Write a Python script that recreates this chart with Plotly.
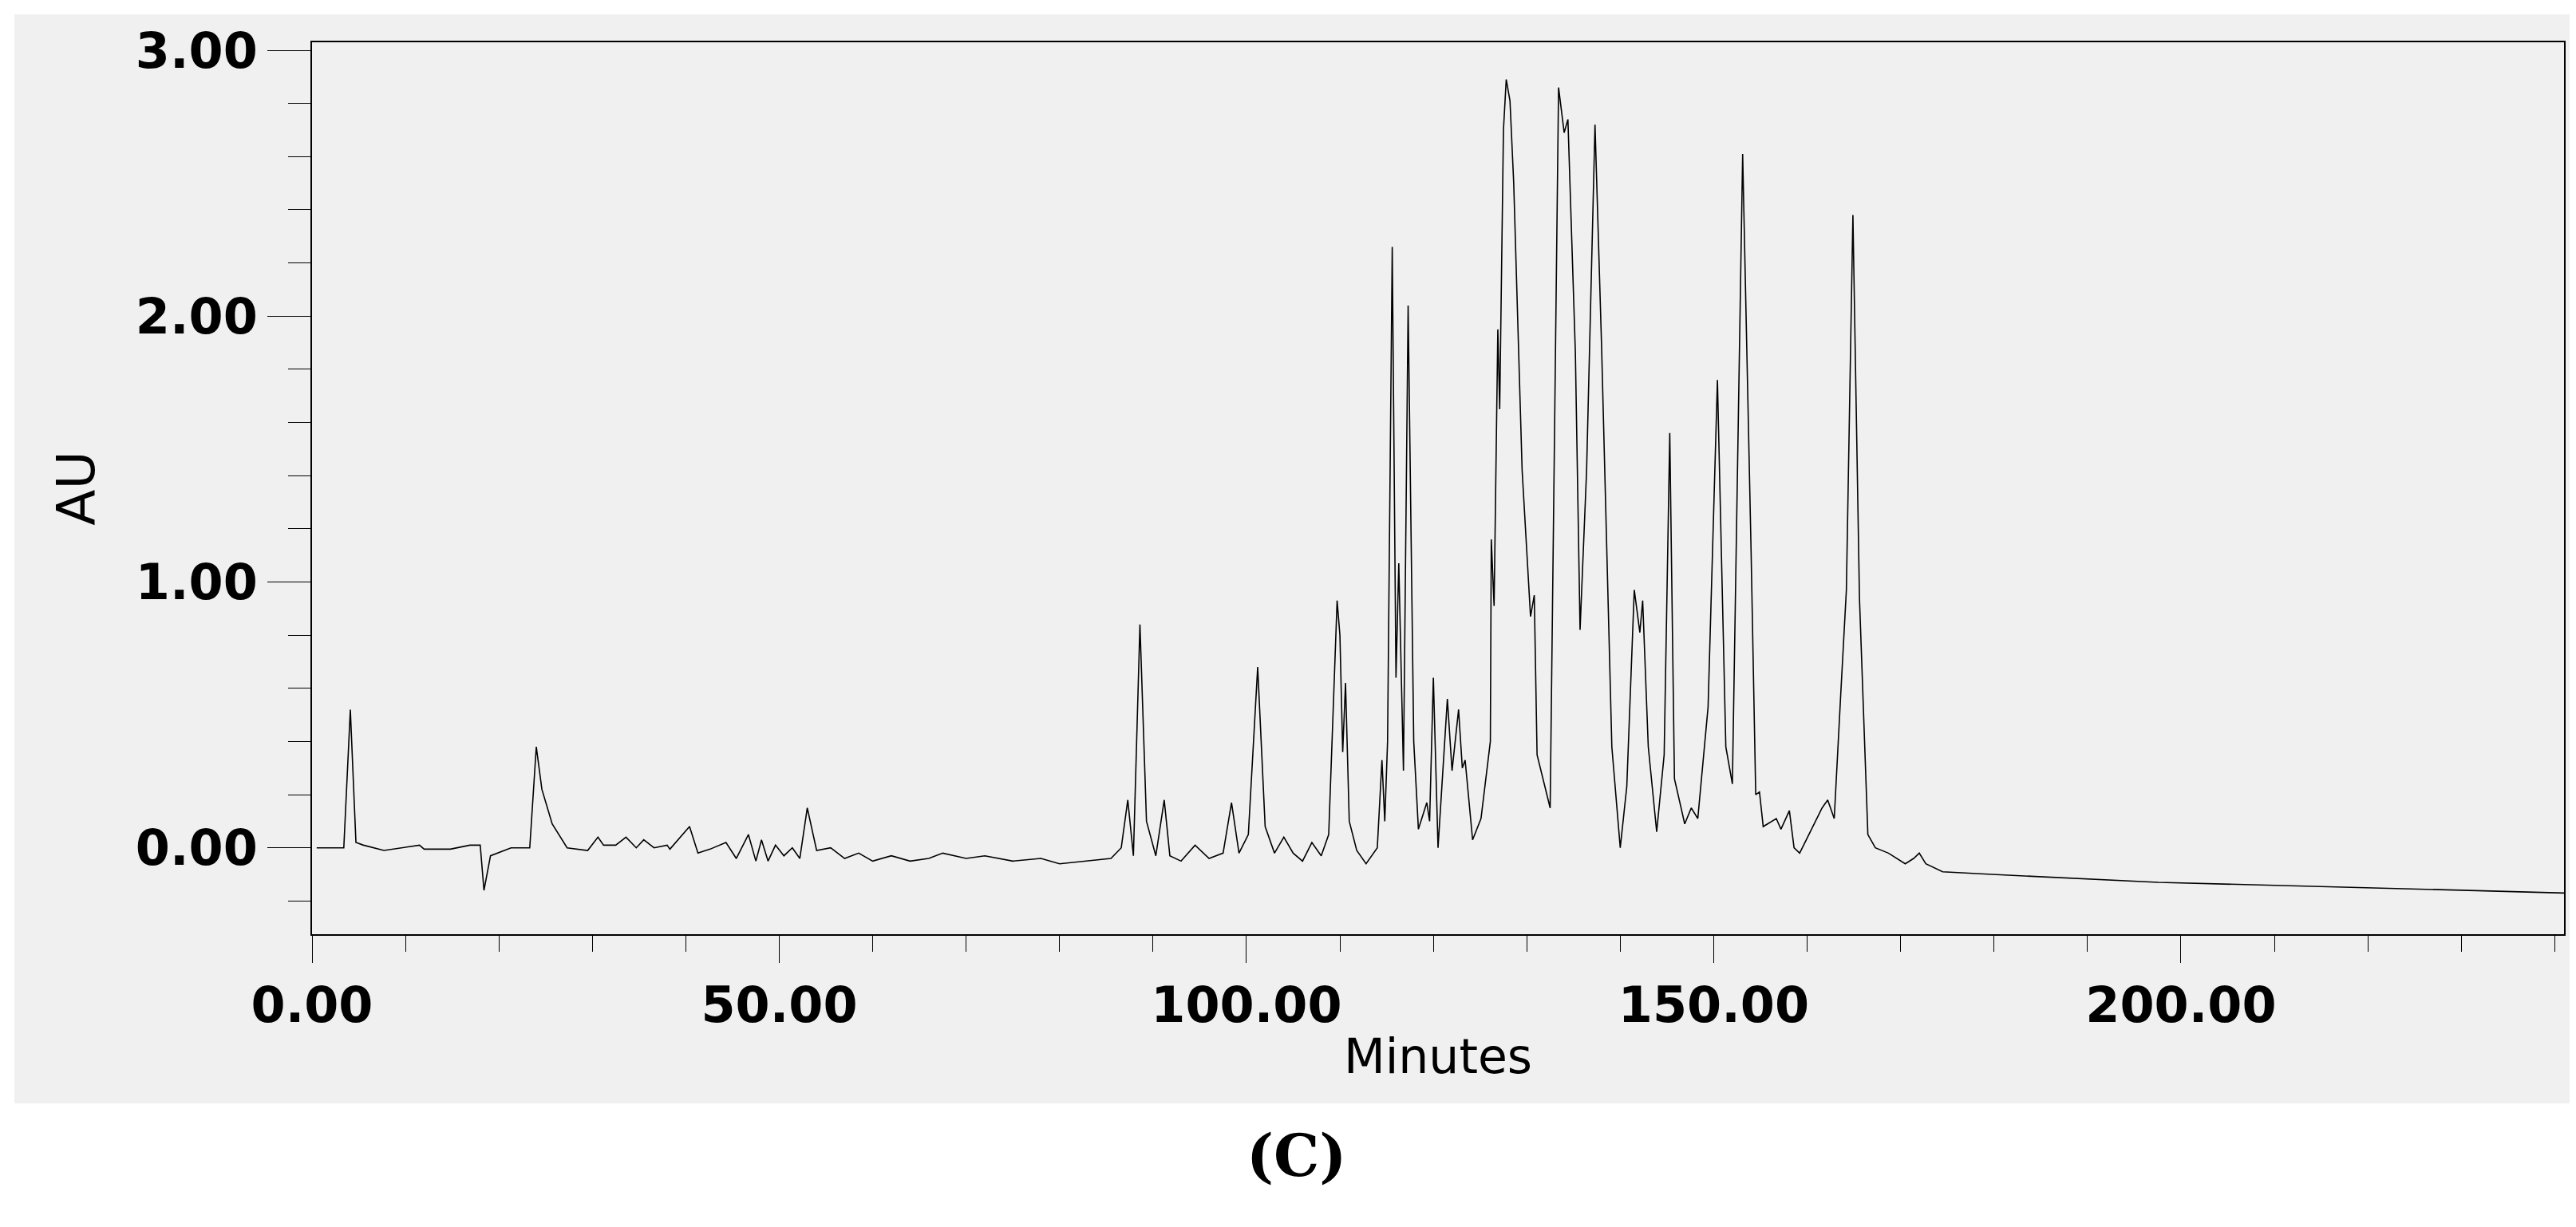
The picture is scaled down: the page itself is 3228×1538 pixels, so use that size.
import plotly.graph_objects as go

minutes = [0.5, 3.4, 4.1, 4.7, 5.5, 7.7, 11.5, 12.0, 14.8, 16.9, 18.0, 18.4, 19.1, 21.3, 23.3, 24.0, 24.6, 25.7, 27.3,
           29.5, 30.6, 31.2, 32.5, 33.6, 34.7, 35.5, 36.6, 38.0, 38.3, 40.4, 41.3, 42.6, 44.3, 45.4, 46.7, 47.5, 48.1,
           48.8, 49.6, 50.5, 51.4, 52.2, 53.0, 54.0, 55.5, 57.0, 58.5, 60.0, 62.0, 64.0, 66.0, 67.5, 70.0, 72.0, 75.0,
           78.0, 80.0, 83.0, 85.5, 86.6, 87.3, 87.9, 88.6, 89.3, 90.3, 91.2, 91.8, 93.0, 94.5, 96.0, 97.5, 98.4, 99.2,
           100.2, 101.2, 102.0, 103.0, 104.0, 105.0, 106.0, 107.0, 108.0, 108.8,
           109.7, 110.0, 110.3, 110.6, 111.0, 111.8, 112.8, 114.0, 114.5, 114.8, 115.1, 115.6, 116.0, 116.3, 116.8,
           117.3, 117.9, 118.4, 119.3, 119.6, 120.0, 120.5, 121.5, 122.0, 122.7, 123.1, 123.4, 124.2, 125.1, 126.1,
           126.2, 126.5, 126.9, 127.1, 127.5, 127.8, 128.2, 128.6, 129.5, 130.4, 130.8, 131.1, 132.5, 133.4, 134.0, 134.4, 135.2,
           135.7, 136.4, 137.3, 138.0, 139.1, 140.0, 140.7, 141.5, 142.1, 142.4, 143.0, 143.9, 144.7, 145.3, 145.8,
           146.9, 147.6, 148.3, 149.4, 150.4, 151.3, 152.0, 153.1, 154.0, 154.5, 154.9, 155.3, 156.7, 157.2, 158.1,
           158.6, 159.2, 160.2, 161.6, 162.2, 162.9, 163.6, 164.2, 164.9, 165.6, 166.5, 167.3, 168.7, 170.5, 171.4,
           172.0, 172.7, 174.5, 179.8, 197.6, 219.8, 241.0]
au = [0.0, 0.0, 0.52, 0.02, 0.01, -0.01, 0.01, -0.005, -0.005, 0.01, 0.01, -0.16, -0.03, 0.0, 0.0, 0.38, 0.22, 0.09, 0.0,
      -0.01, 0.04, 0.01, 0.01, 0.04, 0.0, 0.03, 0.0, 0.01, -0.005, 0.08, -0.02, -0.005, 0.02, -0.04, 0.05, -0.05, 0.03,
      -0.05, 0.01, -0.03, 0.0, -0.04, 0.15, -0.01, 0.0, -0.04, -0.02, -0.05, -0.03, -0.05, -0.04, -0.02, -0.04, -0.03,
      -0.05, -0.04, -0.06, -0.05, -0.04, 0.0, 0.18, -0.03, 0.84, 0.1, -0.03, 0.18, -0.03, -0.05, 0.01, -0.04, -0.02,
      0.17, -0.02, 0.05, 0.68, 0.08, -0.02, 0.04, -0.02, -0.05, 0.02, -0.03, 0.05,
      0.93, 0.8, 0.36, 0.62, 0.1, -0.01, -0.06, 0.0, 0.33, 0.1, 0.4, 2.26, 0.64, 1.07, 0.29, 2.04, 0.4, 0.07, 0.17,
      0.1, 0.64, 0.0, 0.56, 0.29, 0.52, 0.3, 0.33, 0.03, 0.11, 0.4, 1.16, 0.91, 1.95, 1.65, 2.7, 2.89, 2.81, 2.5, 1.42, 0.87,
      0.95, 0.35, 0.15, 2.86, 2.69, 2.74, 1.86, 0.82, 1.42, 2.72, 1.89, 0.38, 0.0, 0.23, 0.97, 0.81, 0.93, 0.38,
      0.06, 0.35, 1.56, 0.26, 0.09, 0.15, 0.11, 0.53, 1.76, 0.38, 0.24, 2.61, 1.12, 0.2, 0.21, 0.08, 0.11, 0.07,
      0.14, 0.0, -0.02, 0.05, 0.15, 0.18, 0.11, 0.58, 0.97, 2.38, 0.94, 0.05, 0.0, -0.02, -0.06, -0.04, -0.02,
      -0.06, -0.09, -0.1, -0.13, -0.15, -0.17]

y_ticks = [0, 1, 2, 3]
y_labels = ["0.00", "1.00", "2.00", "3.00"]
x_ticks = [0, 50, 100, 150, 200]
x_labels = ["0.00", "50.00", "100.00", "150.00", "200.00"]

W, H = 3228, 1538
L, R, T, B = 383, 3205, 45, 1163

fig = go.Figure(go.Scatter(x=minutes, y=au, mode="lines", line=dict(color="black", width=1.6),
                           hoverinfo="skip"))
tfnt = dict(family="DejaVu Sans", size=62, color="black", weight="bold")
afnt = dict(family="DejaVu Sans", size=60, color="black")
fig.update_layout(
    width=W, height=H, paper_bgcolor="white", plot_bgcolor="#f0f0f0", showlegend=False,
    margin=dict(l=L, r=W - R, t=T, b=H - B),
    shapes=[dict(type="rect", xref="paper", yref="paper", layer="below",
                 x0=(10 - L) / (R - L), x1=(3218 - L) / (R - L),
                 y0=(B - 1375) / (B - T), y1=(B - 10) / (B - T),
                 fillcolor="#f0f0f0", line=dict(width=0))],
    annotations=[dict(text="<b>(C)</b>", xref="paper", yref="paper", showarrow=False,
                      x=(1616 - L) / (R - L), y=(B - 1485) / (B - T),
                      font=dict(family="DejaVu Serif", size=72, color="black"))],
)
fig.update_xaxes(range=[0, 241], tickvals=x_ticks, ticktext=x_labels, tickfont=tfnt,
                 ticks="outside", ticklen=34, tickcolor="black", showgrid=False, zeroline=False,
                 showline=True, linecolor="black", linewidth=1.5, mirror=True,
                 minor=dict(dtick=10, ticks="outside", ticklen=20, tickcolor="black"),
                 title=dict(text="Minutes", font=afnt, standoff=8))
fig.update_yaxes(range=[-0.325, 3.03], tickvals=y_ticks, ticktext=y_labels, tickfont=tfnt,
                 ticks="outside", ticklen=54, tickcolor="black", showgrid=False, zeroline=False,
                 showline=True, linecolor="black", linewidth=1.5, mirror=True,
                 minor=dict(dtick=0.2, tick0=0, ticks="outside", ticklen=28, tickcolor="black"),
                 title=dict(text="AU", font=dict(family="DejaVu Sans", size=66, color="black"), standoff=30))
fig.write_html("out.html")
